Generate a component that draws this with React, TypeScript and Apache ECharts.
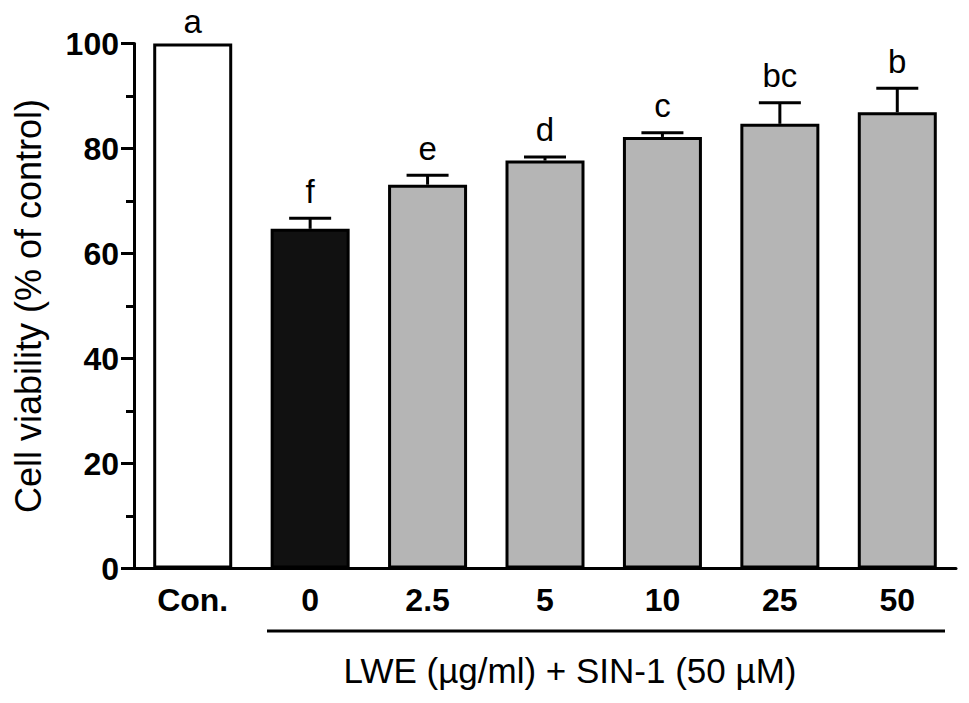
import React, { useEffect, useRef } from 'react';
import * as echarts from 'echarts';

// cell viability (% of control)
const categories = ['Con.', '0', '2.5', '5', '10', '25', '50'];
const viability = [100, 64.7, 73.1, 77.7, 82.2, 84.7, 86.9];
const sem = [0, 2.0, 1.8, 0.7, 0.8, 4.0, 4.6];
const letters = ['a', 'f', 'e', 'd', 'c', 'bc', 'b'];

const FONT = '"Liberation Sans", Arial, Helvetica, sans-serif';

function fillFor(i: number) {
  if (i === 0) return '#ffffff';
  if (i === 1) return '#111111';
  return '#b5b5b5';
}

export default function App() {
  const ref = useRef<HTMLDivElement | null>(null);

  useEffect(() => {
    if (!ref.current) return;
    const chart = echarts.init(ref.current, undefined, { renderer: 'svg' });
    chart.setOption({
      animation: false,
      backgroundColor: '#ffffff',
      grid: { left: 134, right: 13, top: 43.5, bottom: 134.5 },
      xAxis: {
        type: 'category',
        data: categories,
        axisLine: { lineStyle: { color: '#000', width: 3 } },
        axisTick: { alignWithLabel: true, length: 12, lineStyle: { color: '#000', width: 3 } },
        axisLabel: { color: '#000', fontFamily: FONT, fontWeight: 'bold', fontSize: 32, margin: 15 },
      },
      yAxis: {
        type: 'value',
        min: 0,
        max: 100,
        interval: 20,
        name: 'Cell viability (% of control)',
        nameLocation: 'middle',
        nameRotate: 90,
        nameGap: 88,
        nameTextStyle: { color: '#000', fontFamily: FONT, fontSize: 36 },
        axisLine: { show: true, lineStyle: { color: '#000', width: 3 } },
        axisTick: { show: true, length: 13, lineStyle: { color: '#000', width: 3 } },
        minorTick: { show: true, splitNumber: 2, length: 8, lineStyle: { color: '#000', width: 3 } },
        splitLine: { show: false },
        axisLabel: { color: '#000', fontFamily: FONT, fontWeight: 'bold', fontSize: 32, margin: 15 },
      },
      series: [
        {
          type: 'bar',
          data: viability.map((v, i) => ({
            value: v,
            itemStyle: { color: fillFor(i), borderColor: '#000', borderWidth: 3 },
          })),
          barWidth: 79,
          z: 2,
        },
        {
          type: 'custom',
          z: 3,
          encode: { x: 0, y: 1 },
          data: categories.map((_, i) => [i, viability[i], sem[i]]),
          renderItem: (params: any, api: any) => {
            const i = api.value(0);
            const v = api.value(1);
            const e = api.value(2);
            const base = api.coord([i, v]);
            const top = api.coord([i, v + e]);
            const half = 21;
            const children: any[] = [];
            if (e > 0) {
              children.push({
                type: 'line',
                shape: { x1: base[0], y1: base[1], x2: top[0], y2: top[1] },
                style: { stroke: '#000', lineWidth: 3 },
              });
              children.push({
                type: 'line',
                shape: { x1: top[0] - half, y1: top[1], x2: top[0] + half, y2: top[1] },
                style: { stroke: '#000', lineWidth: 3 },
              });
            }
            children.push({
              type: 'text',
              x: top[0],
              y: top[1] - (e > 0 ? 27 : 22),
              style: {
                text: letters[params.dataIndex],
                font: `33px ${FONT}`,
                fill: '#000',
                align: 'center',
                verticalAlign: 'middle',
              },
            });
            return { type: 'group', children };
          },
        },
      ],
      graphic: [
        {
          type: 'line',
          shape: { x1: 267, y1: 631, x2: 945, y2: 631 },
          style: { stroke: '#000', lineWidth: 3 },
        },
        {
          type: 'text',
          x: 570,
          y: 670,
          style: {
            text: 'LWE (µg/ml) + SIN-1 (50 µM)',
            font: `35px ${FONT}`,
            fill: '#000',
            align: 'center',
            verticalAlign: 'middle',
          },
        },
      ],
    });
    return () => { chart.dispose(); };
  }, []);

  return <div ref={ref} style={{ position: 'absolute', left: 0, top: 0, width: 969, height: 703 }} />;
}
